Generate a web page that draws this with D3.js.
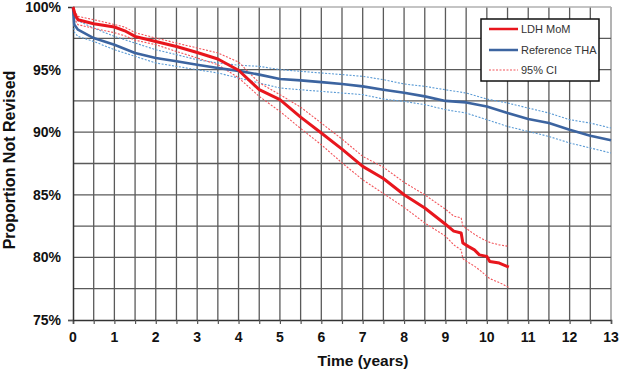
<!DOCTYPE html>
<html>
<head>
<meta charset="utf-8">
<script src="https://cdn.jsdelivr.net/npm/d3@7"></script>
<style>
  body { margin: 0; background: #fff; }
  svg { display: block; font-family: Arial, "Liberation Sans", sans-serif; }
</style>
</head>
<body>
<div id="chart"></div>
<script>
// LDH MoM (red) - Kaplan-Meier survival
const ldhTime  = [0, 0.05, 0.12, 0.5, 1.0, 1.25, 1.5, 2.0, 2.5, 3.0, 3.5, 4.0, 4.5, 5.0, 5.5, 6.0, 6.5, 7.0, 7.5, 8.0, 8.5, 9.0, 9.2, 9.38, 9.42, 9.55, 9.7, 9.82, 10.0, 10.07, 10.3, 10.53];
const ldhMain  = [100, 99.4, 98.98, 98.66, 98.4, 98.1, 97.65, 97.25, 96.85, 96.37, 95.85, 94.95, 93.4, 92.6, 91.2, 89.94, 88.65, 87.27, 86.3, 85.0, 83.95, 82.65, 82.1, 81.95, 81.15, 80.88, 80.6, 80.2, 80.08, 79.68, 79.55, 79.23];
const ldhUpper = [100, 99.6, 99.25, 98.99, 98.6, 98.4, 97.95, 97.52, 97.12, 96.73, 96.33, 95.6, 93.95, 93.0, 92.0, 90.73, 89.45, 88.07, 87.2, 86.0, 85.0, 83.85, 83.3, 83.15, 82.5, 82.2, 81.85, 81.6, 81.3, 81.2, 81.0, 80.88];
const ldhLower = [100, 99.0, 98.59, 98.3, 97.95, 97.7, 97.35, 96.99, 96.45, 95.93, 95.39, 94.35, 92.86, 91.66, 90.3, 89.0, 87.55, 86.2, 85.1, 84.0, 82.75, 81.7, 81.0, 80.6, 79.9, 79.6, 79.3, 79.0, 78.5, 78.3, 78.0, 77.6];

// Reference THA (blue)
const thaTime  = [0, 0.03, 0.12, 0.5, 1.0, 1.5, 2.0, 2.5, 3.0, 3.5, 4.0, 4.5, 5.0, 5.5, 6.0, 6.5, 7.0, 7.5, 8.0, 8.5, 9.0, 9.5, 10.0, 10.5, 11.0, 11.5, 12.0, 12.5, 13.0];
const thaMain  = [100, 98.6, 98.19, 97.52, 96.99, 96.33, 95.93, 95.66, 95.39, 95.13, 94.9, 94.6, 94.25, 94.14, 94.0, 93.85, 93.66, 93.39, 93.15, 92.86, 92.5, 92.38, 92.06, 91.53, 91.05, 90.73, 90.2, 89.72, 89.35];
const thaUpper = [100, 99.3, 98.9, 98.32, 97.65, 97.12, 96.59, 96.19, 95.79, 95.53, 95.35, 95.26, 95.0, 94.86, 94.73, 94.6, 94.46, 94.2, 93.85, 93.66, 93.39, 93.13, 92.65, 92.33, 91.93, 91.53, 91.0, 90.73, 90.33];
const thaLower = [100, 98.0, 97.65, 97.25, 96.59, 96.06, 95.53, 95.26, 94.99, 94.73, 94.33, 93.93, 93.53, 93.39, 93.26, 93.13, 93.0, 92.65, 92.46, 92.2, 91.8, 91.53, 91.0, 90.46, 90.06, 89.66, 89.14, 88.74, 88.34];

const xTicks = [0, 1, 2, 3, 4, 5, 6, 7, 8, 9, 10, 11, 12, 13];
const yTicks = [75, 80, 85, 90, 95, 100];
const legendLabels = ["LDH MoM", "Reference THA", "95% CI"];

const width = 621, height = 373;
const margin = { top: 7, right: 10, bottom: 53, left: 73 };

const svg = d3.select("#chart")
  .append("svg")
  .attr("width", width)
  .attr("height", height);

const x = d3.scaleLinear()
  .domain([0, 13])
  .range([margin.left, width - margin.right]);

const y = d3.scaleLinear()
  .domain([75, 100])
  .range([height - margin.bottom, margin.top]);

// grid
const grid = svg.append("g");
grid.selectAll("line.v")
  .data(d3.range(0.5, 13.01, 0.5))
  .enter()
  .append("line")
  .attr("x1", d => x(d)).attr("x2", d => x(d))
  .attr("y1", y(100)).attr("y2", y(75))
  .attr("stroke", d => d === 13 ? "#8a8a8a" : "#5a5a5a")
  .attr("stroke-width", 1.3);
grid.selectAll("line.h")
  .data(d3.range(77.5, 100.01, 2.5))
  .enter()
  .append("line")
  .attr("x1", x(0)).attr("x2", x(13))
  .attr("y1", d => y(d)).attr("y2", d => y(d))
  .attr("stroke", d => d === 100 ? "#b0b0b0" : "#5a5a5a")
  .attr("stroke-width", 1.3);

// X axis
const xAxis = svg.append("g")
  .attr("transform", "translate(0," + y(75) + ")")
  .call(d3.axisBottom(x).tickValues(d3.range(0, 13.01, 0.5)).tickSize(4).tickFormat(""));
xAxis.select(".domain").attr("stroke", "#333").attr("stroke-width", 1.5);
xAxis.selectAll(".tick line").attr("stroke", "#555").attr("stroke-width", 1.2);

svg.append("g").selectAll("text")
  .data(xTicks)
  .enter()
  .append("text")
  .attr("x", d => x(d))
  .attr("y", 342)
  .attr("text-anchor", "middle")
  .attr("font-size", 14)
  .attr("font-weight", "bold")
  .attr("fill", "#111")
  .text(d => d);

// Y axis
const yAxis = svg.append("g")
  .attr("transform", "translate(" + x(0) + ",0)")
  .call(d3.axisLeft(y).tickValues([75]).tickSize(5).tickFormat(""));
yAxis.select(".domain").attr("stroke", "#333").attr("stroke-width", 1.5);
yAxis.selectAll(".tick line").attr("stroke", "#555").attr("stroke-width", 1.2);

svg.append("g").selectAll("text")
  .data(yTicks)
  .enter()
  .append("text")
  .attr("x", 61)
  .attr("y", d => y(d) + 5)
  .attr("text-anchor", "end")
  .attr("font-size", 14)
  .attr("font-weight", "bold")
  .attr("fill", "#111")
  .text(d => d + "%");

// axis titles
svg.append("text")
  .attr("x", 363)
  .attr("y", 366)
  .attr("text-anchor", "middle")
  .attr("font-size", 15.5)
  .attr("font-weight", "bold")
  .attr("fill", "#111")
  .text("Time (years)");

svg.append("text")
  .attr("transform", "translate(15,160) rotate(-90)")
  .attr("text-anchor", "middle")
  .attr("font-size", 16)
  .attr("font-weight", "bold")
  .attr("fill", "#111")
  .text("Proportion Not Revised");

// lines
const line = d3.line()
  .x(d => x(d[0]))
  .y(d => y(d[1]));

const zip = (t, v) => t.map((d, i) => [d, v[i]]);

const series = [
  { t: thaTime, v: thaUpper, color: "#5b9bd5", w: 1.1, dash: "2,1.5" },
  { t: thaTime, v: thaLower, color: "#5b9bd5", w: 1.1, dash: "2,1.5" },
  { t: ldhTime, v: ldhUpper, color: "#f2545a", w: 1.1, dash: "2,1.5" },
  { t: ldhTime, v: ldhLower, color: "#f2545a", w: 1.1, dash: "2,1.5" },
  { t: thaTime, v: thaMain, color: "#3c64a0", w: 2.6, dash: null },
  { t: ldhTime, v: ldhMain, color: "#e8161d", w: 3, dash: null }
];

svg.append("g").selectAll("path")
  .data(series)
  .enter()
  .append("path")
  .attr("d", d => line(zip(d.t, d.v)))
  .attr("fill", "none")
  .attr("stroke", d => d.color)
  .attr("stroke-width", d => d.w)
  .attr("stroke-dasharray", d => d.dash)
  .attr("stroke-linejoin", "round");

// legend
const legend = svg.append("g");
legend.append("rect")
  .attr("x", 481).attr("y", 19)
  .attr("width", 118).attr("height", 62)
  .attr("fill", "#fff")
  .attr("stroke", "#111")
  .attr("stroke-width", 1.5);

const legendStyle = [
  { color: "#e8161d", w: 2.5, dash: null },
  { color: "#3c64a0", w: 2.5, dash: null },
  { color: "#f2545a", w: 1.1, dash: "2,1.5" }
];
const legendRows = [29, 50, 70];

legendLabels.forEach((label, i) => {
  legend.append("line")
    .attr("x1", 489).attr("x2", 518)
    .attr("y1", legendRows[i]).attr("y2", legendRows[i])
    .attr("stroke", legendStyle[i].color)
    .attr("stroke-width", legendStyle[i].w)
    .attr("stroke-dasharray", legendStyle[i].dash);
  legend.append("text")
    .attr("x", 521)
    .attr("y", legendRows[i] + 4)
    .attr("font-size", 11)
    .attr("fill", "#333")
    .text(label);
});
</script>
</body>
</html>
